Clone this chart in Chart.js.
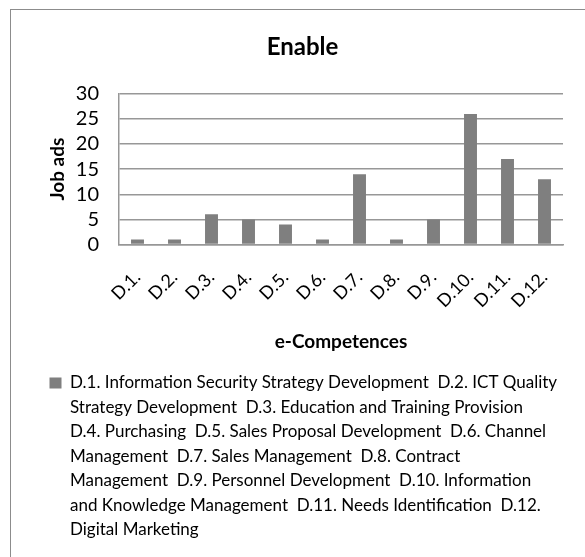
<!DOCTYPE html>
<html>
<head>
<meta charset="utf-8">
<script src="https://cdn.jsdelivr.net/npm/chart.js@4.4.0/dist/chart.umd.min.js"></script>
<style>
    body { margin: 0; background: #fff; overflow: hidden; }
    .frame { position: absolute; left: 10px; top: 9px; width: 700px; height: 700px; border: 1px solid #8c8c8c; }
    .wrap { position: absolute; left: 0; top: 0; width: 585px; height: 557px; }
</style>
</head>
<body>
<div class="frame"></div>
<div class="wrap"><canvas id="enableChart"></canvas></div>
<script>
// ----------- Data ----------------- //
const categories = ["D.1.", "D.2.", "D.3.", "D.4.", "D.5.", "D.6.", "D.7.", "D.8.", "D.9.", "D.10.", "D.11.", "D.12."];
const jobAds = [1, 1, 6, 5, 4, 1, 14, 1, 5, 26, 17, 13];
const yTicks = [0, 5, 10, 15, 20, 25, 30];

// legend text, wrapped the way the original shows it
const legendLines = [
    "D.1. Information Security Strategy Development  D.2. ICT Quality",
    "Strategy Development  D.3. Education and Training Provision",
    "D.4. Purchasing  D.5. Sales Proposal Development  D.6. Channel",
    "Management  D.7. Sales Management  D.8. Contract",
    "Management  D.9. Personnel Development  D.10. Information",
    "and Knowledge Management  D.11. Needs Identification  D.12.",
    "Digital Marketing"
];

const font = "Lato";
const barColor = "#7f7f7f";
const gridColor = "#979797";

new Chart(document.getElementById('enableChart'), {
    type: "bar",
    data: {
        labels: categories,
        datasets: [{
            label: legendLines.join(" "),
            data: jobAds,
            backgroundColor: barColor,
            barPercentage: 0.35,
            categoryPercentage: 1
        }]
    },
    options: {
        responsive: true,
        maintainAspectRatio: false,
        animation: false,
        layout: {
            padding: { left: 42, right: 22, top: 0, bottom: 8.5 }
        },
        scales: {
            x: {
                afterFit: (scale) => {
                    scale.height = 122.5;
                    scale.paddingLeft = 0;
                    scale.paddingRight = 0;
                },
                grid: { display: false, drawTicks: false },
                border: { display: true, color: gridColor, width: 1.5 },
                ticks: {
                    color: "#000",
                    font: { family: font, size: 18 },
                    minRotation: 45,
                    maxRotation: 45,
                    autoSkip: false,
                    padding: 22
                },
                title: {
                    display: true,
                    text: "e-Competences",
                    color: "#000",
                    font: { family: font, size: 19, weight: "bold" },
                    padding: { top: 0, bottom: 13.5 }
                }
            },
            y: {
                min: 0,
                max: 30,
                afterBuildTicks: (scale) => {
                    scale.ticks = yTicks.map(v => ({ value: v }));
                },
                afterFit: (scale) => {
                    scale.width = 77;
                },
                grid: { color: gridColor, lineWidth: 1.5, drawTicks: false },
                border: { display: true, color: gridColor, width: 1.5 },
                ticks: {
                    color: "#000",
                    font: { family: font, size: 20 },
                    autoSkip: false,
                    padding: 20
                },
                title: {
                    display: true,
                    text: "Job ads",
                    color: "#000",
                    font: { family: font, size: 19, weight: "bold" },
                    padding: { top: 4, bottom: 0 }
                }
            }
        },
        plugins: {
            title: {
                display: true,
                text: "Enable",
                color: "#000",
                font: { family: font, size: 24, weight: "bold" },
                padding: { top: 33, bottom: 32 }
            },
            legend: {
                position: "bottom",
                align: "start",
                labels: {
                    color: "#000",
                    font: { family: font, size: 17 },
                    boxWidth: 12,
                    boxHeight: 11,
                    padding: 7.5,
                    // one legend row per text line, box only on the first
                    generateLabels: (chart) => legendLines.map((line, i) => ({
                        text: line,
                        fillStyle: i === 0 ? barColor : "rgba(0,0,0,0)",
                        strokeStyle: "rgba(0,0,0,0)",
                        lineWidth: 0,
                        hidden: false,
                        datasetIndex: 0
                    }))
                }
            },
            tooltip: { enabled: false }
        }
    }
});
</script>
</body>
</html>
